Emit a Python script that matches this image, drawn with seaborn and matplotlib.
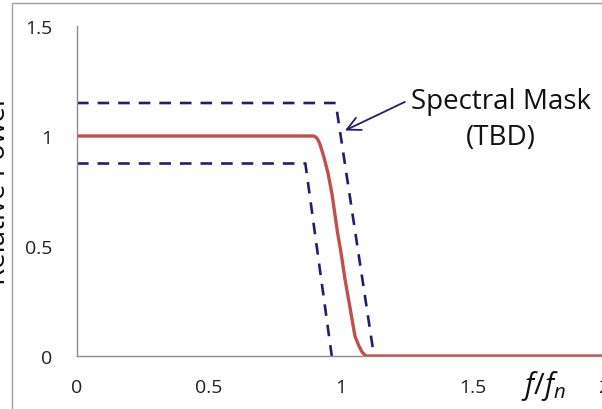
import matplotlib
matplotlib.use("Agg")
import matplotlib.pyplot as plt
import pandas as pd
import seaborn as sns
from matplotlib.patches import Rectangle

# data
pulse_x = [0, 0.895, 0.905, 0.913, 0.92, 0.935, 0.951, 0.966, 0.987, 1.0, 1.015,
           1.037, 1.053, 1.068, 1.08, 1.09, 1.097, 2.0]
pulse_y = [1, 1, 0.995, 0.982, 0.964, 0.905, 0.83, 0.736, 0.56, 0.47, 0.35,
           0.20, 0.09, 0.045, 0.018, 0.005, 0, 0]

upper_x = [0, 0.98, 1.125]
upper_y = [1.15, 1.15, 0]
lower_x = [0, 0.865, 0.965]
lower_y = [0.875, 0.875, 0]

x_ticks = [0, 0.5, 1, 1.5, 2]
y_ticks = [0, 0.5, 1, 1.5]

sns.set_style("white")
plt.rcParams["font.family"] = ["Open Sans", "DejaVu Sans"]
plt.rcParams["mathtext.fontset"] = "custom"
plt.rcParams["mathtext.it"] = "Open Sans:italic"
plt.rcParams["mathtext.rm"] = "Open Sans"

red = "#C0504D"
navy = "#1F1F6B"
grey = "#8C8C8C"

fig = plt.figure(figsize=(6.02, 4.10), dpi=100)
ax = fig.add_axes([77 / 602, 1 - 357 / 410, 528 / 602, 330 / 410])

pulse = pd.DataFrame({"x": pulse_x, "y": pulse_y})
upper = pd.DataFrame({"x": upper_x, "y": upper_y})
lower = pd.DataFrame({"x": lower_x, "y": lower_y})

sns.lineplot(data=pulse, x="x", y="y", sort=False, estimator=None, color=red, lw=2.4, ax=ax)
for d in (upper, lower):
    sns.lineplot(data=d, x="x", y="y", sort=False, estimator=None, color=navy,
                 lw=1.9, dashes=False, ax=ax, linestyle=(0, (4.4, 3.4)))

ax.set_xlim(0, 2)
ax.set_ylim(0, 1.5)
ax.set_xticks(x_ticks)
ax.set_yticks(y_ticks)
ax.set_xticklabels(["0", "0.5", "1", "1.5", "2"])
ax.set_yticklabels(["0", "0.5", "1", "1.5"])
ax.set_xlabel("")
ax.set_ylabel("")
for s in ("top", "right"):
    ax.spines[s].set_visible(False)
for s in ("left", "bottom"):
    ax.spines[s].set_color(grey)
    ax.spines[s].set_linewidth(1.0)
ax.tick_params(axis="both", direction="in", length=5, width=1, color=grey,
               labelsize=14, labelcolor="#222222")
ax.tick_params(axis="x", pad=16)
ax.tick_params(axis="y", pad=18)

# arrow and its label, drawn separately
ax.annotate("", xy=(1.015, 1.025), xytext=(1.242, 1.155),
            arrowprops=dict(arrowstyle="->", color=navy, lw=1.3,
                            shrinkA=0, shrinkB=0, mutation_scale=24))
ax.text(1.605, 1.078, "Spectral Mask\n(TBD)", ha="center", va="center", fontsize=20,
        multialignment="center", linespacing=1.4, color="#111111")

fig.text(543 / 602, 1 - 386 / 410, "$f/f_n$", fontsize=21, ha="center", va="center",
         color="#111111")
fig.text(5 / 602, 1 - 190 / 410, "Relative Power", rotation=90, rotation_mode="anchor",
         ha="center", va="baseline", fontsize=20, color="#111111")

fig.patches.append(Rectangle((12 / 602, -0.1), 1.2, 1.1 - 4 / 410, transform=fig.transFigure,
                             fill=False, edgecolor="#A0A0A0", lw=1.0))

fig.savefig("out.png", dpi=100)
